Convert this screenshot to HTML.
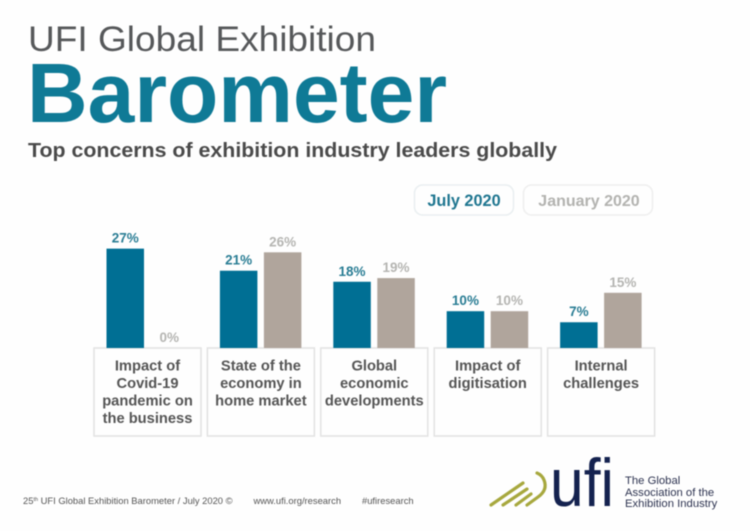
<!DOCTYPE html>
<html lang="en">
<head>
<meta charset="utf-8">
<title>UFI Global Exhibition Barometer</title>
<style>
html,body{margin:0;padding:0;background:#fefefe;}
svg{display:block;font-family:"Liberation Sans",sans-serif;}
</style>
</head>
<body>
<svg id="chart" xmlns="http://www.w3.org/2000/svg" width="750" height="531" viewBox="0 0 750 531">
  <rect x="0" y="0" width="750" height="531" fill="#fefefe"/>
  <g style="filter:blur(0.4px)">
  <text x="28" y="51" font-size="35" fill="#56585a" textLength="348" lengthAdjust="spacingAndGlyphs">UFI Global Exhibition</text>
  <text x="27" y="122" font-size="84" font-weight="bold" fill="#0f7a96" textLength="420" lengthAdjust="spacingAndGlyphs">Barometer</text>
  <text x="28" y="157" font-size="20.5" font-weight="bold" fill="#4a4a4a" textLength="529" lengthAdjust="spacingAndGlyphs">Top concerns of exhibition industry leaders globally</text>

  <g>
    <rect x="414.5" y="185" width="99" height="30" rx="8" fill="#fefefe" stroke="#e9eef0" stroke-width="1.5"/>
    <text x="464" y="206" font-size="16.3" font-weight="bold" fill="#1f7690" text-anchor="middle">July 2020</text>
    <rect x="523.5" y="185" width="129" height="30" rx="8" fill="#fefefe" stroke="#eeeeee" stroke-width="1.5"/>
    <text x="589" y="206" font-size="16" font-weight="bold" fill="#b3b3b0" text-anchor="middle">January 2020</text>
  </g>

  <g id="plot"></g>

  <g font-size="9.4" fill="#555555">
    <text x="23" y="504">25<tspan font-size="5.5" dy="-3">th</tspan><tspan dy="3"> UFI Global Exhibition Barometer / July 2020 ©</tspan></text>
    <text x="253.5" y="504">www.ufi.org/research</text>
    <text x="362" y="504">#ufiresearch</text>
  </g>

  <g>
    <g fill="none" stroke="#a7a83e" stroke-width="3.2" stroke-linecap="round">
      <line x1="491" y1="505" x2="523" y2="483"/>
      <line x1="503" y1="505" x2="527" y2="489"/>
      <line x1="516" y1="505" x2="531" y2="494"/>
      <path d="M527 505 L538 497 Q548 490 544 480 Q542 475 537 473"/>
    </g>
    <text x="550" y="506" font-size="68" fill="#14224f" textLength="64" lengthAdjust="spacingAndGlyphs">ufi</text>
    <text x="625" y="484" font-size="11.3" fill="#2d3350">The Global</text>
    <text x="625" y="496" font-size="11.3" fill="#2d3350">Association of the</text>
    <text x="625" y="507" font-size="11.3" fill="#2d3350">Exhibition Industry</text>
  </g>
  </g>
</svg>
<script>
const categories = [
  ["Impact of", "Covid-19", "pandemic on", "the business"],
  ["State of the", "economy in", "home market"],
  ["Global", "economic", "developments"],
  ["Impact of", "digitisation"],
  ["Internal", "challenges"]
];
const july2020 = [27, 21, 18, 10, 7];
const january2020 = [0, 26, 19, 10, 15];

const SVG_NS = "http://www.w3.org/2000/svg";
const plot = document.getElementById("plot");
const baselineY = 348;
const pxPerPercent = 3.68;
const boxStart = 94;
const boxStep = 113.4;
const boxWidth = 107;
const boxHeight = 88;
const barWidth = 37.5;

function xBox(i) { return boxStart + boxStep * i; }
function yValue(v) { return baselineY - v * pxPerPercent; }

function make(tag, attrs, text) {
  const el = document.createElementNS(SVG_NS, tag);
  for (const k in attrs) el.setAttribute(k, attrs[k]);
  if (text !== undefined) el.textContent = text;
  plot.appendChild(el);
  return el;
}

function drawBar(x, v, fill, labelFill) {
  const bar = make("rect", {x: x, y: yValue(v), width: barWidth, height: v * pxPerPercent, fill: fill});
  
  
  const label = make("text", {
    x: x + barWidth / 2, y: yValue(v) - 6, "font-size": 13.5, "font-weight": "bold",
    fill: labelFill, "text-anchor": "middle"
  }, v + "%");
  
  
}

categories.forEach(function (lines, i) {
  const left = xBox(i);
  const box = make("rect", {
    x: left, y: baselineY, width: boxWidth, height: boxHeight,
    fill: "#fefefe", stroke: "#e2e2e2", "stroke-width": 1.5
  });
  
  

  lines.forEach(function (line, j) {
    const t = make("text", {
      x: left + boxWidth / 2, y: 370.5 + j * 17.5, "font-size": 14.7, "font-weight": "bold",
      fill: "#555555", "text-anchor": "middle"
    }, line);
    
    
  });

  drawBar(left + 12.5, july2020[i], "#006f94", "#2a7d94");
  drawBar(left + 56.5, january2020[i], "#b0a59c", "#b5b5b2");
});
</script>
</body>
</html>
